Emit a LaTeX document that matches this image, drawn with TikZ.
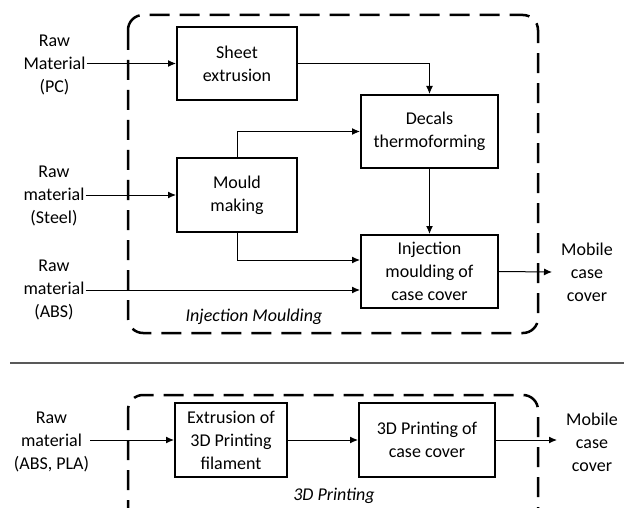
\documentclass[tikz,border=0pt]{standalone}
\usepackage{fontspec}
\setmainfont{Carlito}
\usetikzlibrary{arrows.meta,calc}
\begin{document}
\begin{tikzpicture}[x=1pt,y=-1pt,
  txt/.style={align=center,font=\fontsize{18}{23}\selectfont,inner sep=1pt},
  box/.style={txt,draw,line width=2pt,inner sep=0pt},
  arr/.style={line width=1pt,-{Latex[length=8pt,width=7pt]}},
  group/.style={draw,line width=2.5pt,dash pattern=on 20pt off 10pt,rounded corners=15pt},
  grouplabel/.style={font=\fontsize{18}{23}\selectfont\itshape,inner sep=0pt}]
\clip (0,0) rectangle (624,508);
\useasboundingbox (0,0) rectangle (624,508);
\fill[white] (0,0) rectangle (624,508);
% groups
\draw[group] (128,15) rectangle (538,333);
\draw[group] (128,395) rectangle (538,525);
\node[grouplabel] (glab1) at (254,317) {Injection Moulding};
\node[grouplabel] (glab2) at (334,496) {3D Printing};
% separator
\draw[line width=2pt,black!65] (10,363) -- (624,363);
% boxes top
\node[box,minimum width=120pt,minimum height=73pt] (sheet) at (237,63.5) {Sheet\\extrusion};
\node[box,minimum width=120pt,minimum height=73pt] (mould) at (237,195) {Mould\\making};
\node[box,minimum width=137pt,minimum height=73pt] (decals) at (429.5,131.5) {Decals\\thermoforming};
\node[box,minimum width=137pt,minimum height=73pt] (inj) at (429.5,271.5) {Injection\\moulding of\\case cover};
% labels top
\node[txt] (pc) at (54.5,65) {Raw\\Material\\(PC)};
\node[txt] (steel) at (54,196) {Raw\\material\\(Steel)};
\node[txt] (abs) at (54,290) {Raw\\material\\(ABS)};
\node[txt] (mob1) at (587,272) {Mobile\\case\\cover};
\coordinate (out1) at (552,272);
% connectors top
\draw[arr] (pc.east |- sheet.west) -- (sheet.west);
\draw[arr] (steel.east |- mould.west) -- (mould.west);
\draw[arr] (abs.east) -- (abs.east -| inj.west);
\draw[arr] (sheet.east) -| (decals.north);
\draw[arr] (mould.north) |- (decals.west);
\draw[arr] (mould.south) |- ($(inj.west)+(0,-11.5)$);
\draw[arr] (decals.south) -- (inj.north);
\draw[arr] (inj.east) -- (out1);
% bottom
\node[box,minimum width=112pt,minimum height=74pt] (extr) at (231,440) {Extrusion of\\3D Printing\\filament};
\node[box,minimum width=136pt,minimum height=74pt] (print) at (427,440) {3D Printing of\\case cover};
\node[txt] (abspla) at (51.5,442) {Raw\\material\\(ABS, PLA)};
\node[txt] (mob2) at (592,442) {Mobile\\case\\cover};
\coordinate (out2) at (557,440);
\draw[arr] (abspla.east |- extr.west) -- (extr.west);
\draw[arr] (extr.east) -- (print.west);
\draw[arr] (print.east) -- (out2);
\end{tikzpicture}
\end{document}
